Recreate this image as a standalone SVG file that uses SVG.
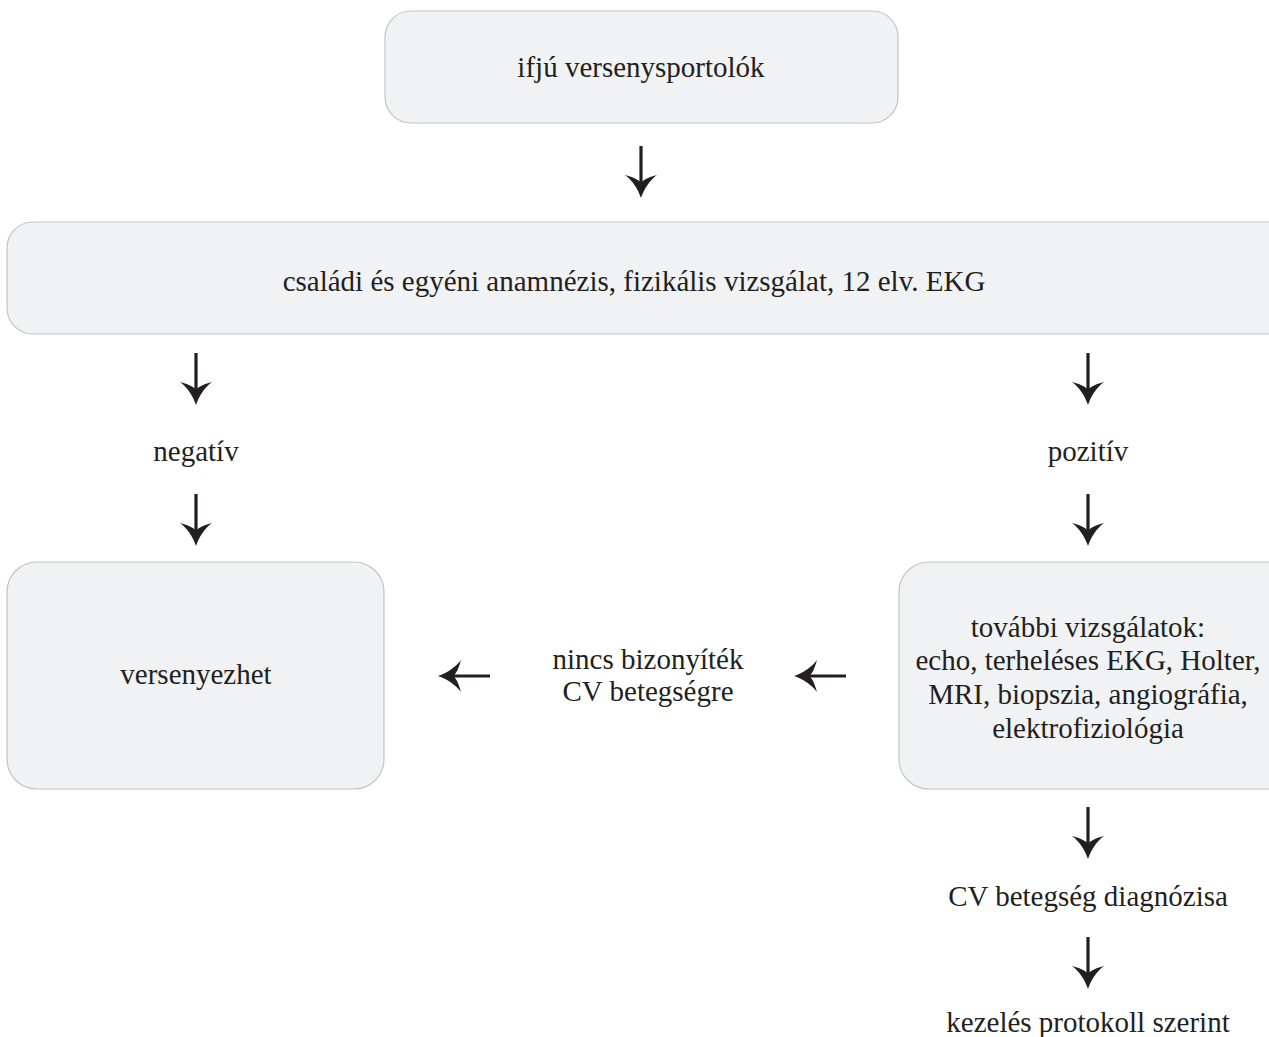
<svg xmlns="http://www.w3.org/2000/svg" width="1269" height="1037" viewBox="0 0 1269 1037">
<defs>
<style>
.box{fill:#f1f2f4;stroke:#c4c4c4;stroke-width:1.2}
.t{font-family:"Liberation Serif","Times New Roman",serif;font-size:29px;fill:#231f20;text-anchor:middle}
.shaft{stroke:#231f20;stroke-width:3.2;fill:none}
.head{fill:#231f20}
</style>
<g id="arrowDown">
<line class="shaft" x1="0" y1="-52" x2="0" y2="-10"/>
<path class="head" d="M0,0 C-3,-9 -9,-18 -16,-23 C-9,-21 -3,-19 0,-15 C3,-19 9,-21 16,-23 C9,-18 3,-9 0,0 Z"/>
</g>
<g id="arrowLeft" transform="rotate(90)">
<use href="#arrowDown"/>
</g>
</defs>
<rect width="1269" height="1037" fill="#ffffff"/>
<g id="n1">
<rect class="box" x="385" y="11" width="513" height="112" rx="26"/>
<text class="t" x="641" y="77">ifjú versenysportolók</text>
</g>
<g id="n2">
<rect class="box" x="7" y="222" width="1290" height="112" rx="26"/>
<text class="t" x="634" y="291">családi és egyéni anamnézis, fizikális vizsgálat, 12 elv. EKG</text>
</g>
<g id="n3">
<text class="t" x="196" y="461">negatív</text>
</g>
<g id="n4">
<text class="t" x="1088" y="461">pozitív</text>
</g>
<g id="n5">
<rect class="box" x="7" y="562" width="377" height="227" rx="30"/>
<text class="t" x="196" y="684">versenyezhet</text>
</g>
<g id="n6">
<text class="t" x="648" y="669">nincs bizonyíték</text>
<text class="t" x="648" y="701">CV betegségre</text>
</g>
<g id="n7">
<rect class="box" x="899" y="562" width="400" height="227" rx="30"/>
<text class="t" x="1088" y="637">további vizsgálatok:</text>
<text class="t" x="1088" y="670">echo, terheléses EKG, Holter,</text>
<text class="t" x="1088" y="704">MRI, biopszia, angiográfia,</text>
<text class="t" x="1088" y="738">elektrofiziológia</text>
</g>
<g id="n8">
<text class="t" x="1088" y="906">CV betegség diagnózisa</text>
</g>
<g id="n9">
<text class="t" x="1088" y="1032">kezelés protokoll szerint</text>
</g>
<g id="connectors">
<use href="#arrowDown" x="641" y="198"/>
<use href="#arrowDown" x="196" y="405"/>
<use href="#arrowDown" x="196" y="546"/>
<use href="#arrowDown" x="1088" y="405"/>
<use href="#arrowDown" x="1088" y="546"/>
<use href="#arrowDown" x="1088" y="859"/>
<use href="#arrowDown" x="1088" y="989"/>
<use href="#arrowLeft" x="438" y="676"/>
<use href="#arrowLeft" x="794" y="676"/>
</g>
</svg>
